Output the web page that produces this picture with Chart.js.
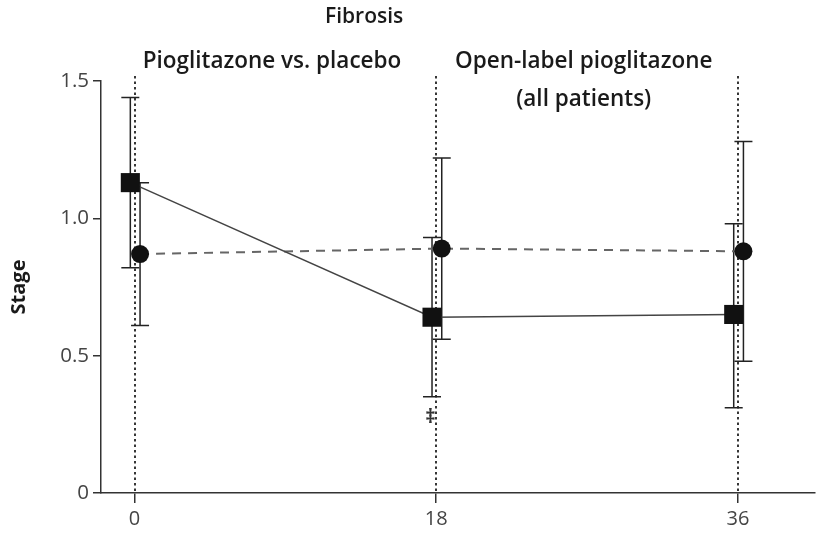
<!DOCTYPE html>
<html>
<head>
<meta charset="utf-8">
<script src="https://cdn.jsdelivr.net/npm/chart.js@4.4.0/dist/chart.umd.min.js"></script>
<style>
html,body{margin:0;padding:0;background:#fff;}
#wrap{width:830px;height:533px;}
</style>
</head>
<body>
<div id="wrap"><canvas id="c" width="830" height="533"></canvas></div>
<script>
// ---- data ----
const categories = [0, 18, 36];
const pioglitazone = [1.13, 0.64, 0.65];
const pioLow = [0.82, 0.35, 0.31];
const pioHigh = [1.44, 0.93, 0.98];
const placebo = [0.87, 0.89, 0.88];
const placLow = [0.61, 0.56, 0.48];
const placHigh = [1.13, 1.22, 1.28];
const xTicks = [0, 18, 36];
const yTicks = [0, 0.5, 1.0, 1.5];
const yTickLabels = ['0', '0.5', '1.0', '1.5'];
const chartTitle = 'Fibrosis';
const yTitle = 'Stage';
const sectionLabels = ['Pioglitazone vs. placebo', 'Open-label pioglitazone', '(all patients)'];
const significanceMark = '\u2021';

// ---- layout / style constants ----
const DODGE_SQ = -0.25;
const DODGE_CI = 0.33;
const FONT = '"Open Sans", "DejaVu Sans", sans-serif';

const errLow = [pioLow, placLow];
const errHigh = [pioHigh, placHigh];

const decorPlugin = {
  id: 'decor',
  beforeDatasetsDraw(chart) {
    const ctx = chart.ctx;
    const xs = chart.scales.x, ys = chart.scales.y;
    const area = chart.chartArea;
    ctx.save();
    // dotted vertical reference lines
    ctx.strokeStyle = '#222';
    ctx.lineWidth = 1.8;
    ctx.setLineDash([2.5, 3]);
    categories.forEach(c => {
      const px = Math.round(xs.getPixelForValue(c));
      ctx.beginPath();
      ctx.moveTo(px, area.top - 5);
      ctx.lineTo(px, area.bottom);
      ctx.stroke();
    });
    ctx.setLineDash([]);
    // error bars
    ctx.strokeStyle = '#222';
    ctx.lineWidth = 1.5;
    chart.data.datasets.forEach((ds, di) => {
      const meta = chart.getDatasetMeta(di);
      meta.data.forEach((pt, i) => {
        const px = pt.x;
        const yl = ys.getPixelForValue(errLow[di][i]);
        const yh = ys.getPixelForValue(errHigh[di][i]);
        ctx.beginPath();
        ctx.moveTo(px, yl); ctx.lineTo(px, yh);
        ctx.moveTo(px - 9, yl); ctx.lineTo(px + 9, yl);
        ctx.moveTo(px - 9, yh); ctx.lineTo(px + 9, yh);
        ctx.stroke();
      });
    });
    ctx.restore();
  },
  afterDraw(chart) {
    const ctx = chart.ctx;
    const xs = chart.scales.x, ys = chart.scales.y;
    ctx.save();
    ctx.fillStyle = '#1a1a1a';
    ctx.textAlign = 'center';
    ctx.textBaseline = 'middle';
    ctx.font = '600 21px ' + FONT;
    ctx.fillText(chartTitle, xs.getPixelForValue(13.7), 17);
    ctx.font = '600 22.5px ' + FONT;
    ctx.fillText(sectionLabels[0], xs.getPixelForValue(8.2), 62);
    ctx.fillText(sectionLabels[1], xs.getPixelForValue(26.8), 62);
    ctx.fillText(sectionLabels[2], xs.getPixelForValue(26.8), 100);
    ctx.font = 'bold 20px ' + FONT;
    ctx.fillStyle = '#333';
    ctx.fillText(significanceMark, xs.getPixelForValue(17.65), ys.getPixelForValue(0.275));
    ctx.restore();
  }
};

new Chart(document.getElementById('c'), {
  type: 'line',
  data: {
    datasets: [
      {
        label: 'Pioglitazone',
        data: categories.map((c, i) => ({ x: c + DODGE_SQ, y: pioglitazone[i] })),
        borderColor: '#444',
        borderWidth: 1.5,
        pointStyle: 'rect',
        pointRadius: 13.5,
        pointBackgroundColor: '#111',
        pointBorderColor: '#111',
        pointBorderWidth: 0,
        tension: 0
      },
      {
        label: 'Placebo',
        data: categories.map((c, i) => ({ x: c + DODGE_CI, y: placebo[i] })),
        borderColor: '#666',
        borderWidth: 2,
        borderDash: [9, 7],
        pointStyle: 'circle',
        pointRadius: 9,
        pointBackgroundColor: '#111',
        pointBorderColor: '#111',
        pointBorderWidth: 0,
        tension: 0
      }
    ]
  },
  options: {
    responsive: false,
    animation: false,
    events: [],
    layout: { padding: { top: 81, right: 15, left: 0, bottom: 0 } },
    plugins: { legend: { display: false }, tooltip: { enabled: false }, title: { display: false } },
    scales: {
      x: {
        type: 'linear',
        min: -2,
        max: 40.6,
        afterBuildTicks: s => { s.ticks = xTicks.map(v => ({ value: v })); },
        ticks: { color: '#444', font: { size: 20, family: FONT }, padding: 4, callback: v => String(v) },
        grid: { drawOnChartArea: false, tickLength: 10, color: '#333', lineWidth: 1.5 },
        border: { color: '#333', width: 1.5 },
        afterFit: s => { s.height = 40; }
      },
      y: {
        min: 0,
        max: 1.5,
        afterBuildTicks: s => { s.ticks = yTicks.map(v => ({ value: v })); },
        ticks: { color: '#444', font: { size: 20.5, family: FONT }, padding: 4,
                 callback: (v, i) => yTickLabels[i] },
        grid: { drawOnChartArea: false, tickLength: 8, color: '#333', lineWidth: 1.5 },
        border: { color: '#333', width: 1.5 },
        title: { display: true, text: yTitle, color: '#1a1a1a', font: { size: 20, weight: 'bold', family: FONT }, padding: { top: 7, bottom: 0 } },
        afterFit: s => { s.width = 101; }
      }
    }
  },
  plugins: [decorPlugin]
});
</script>
</body>
</html>
